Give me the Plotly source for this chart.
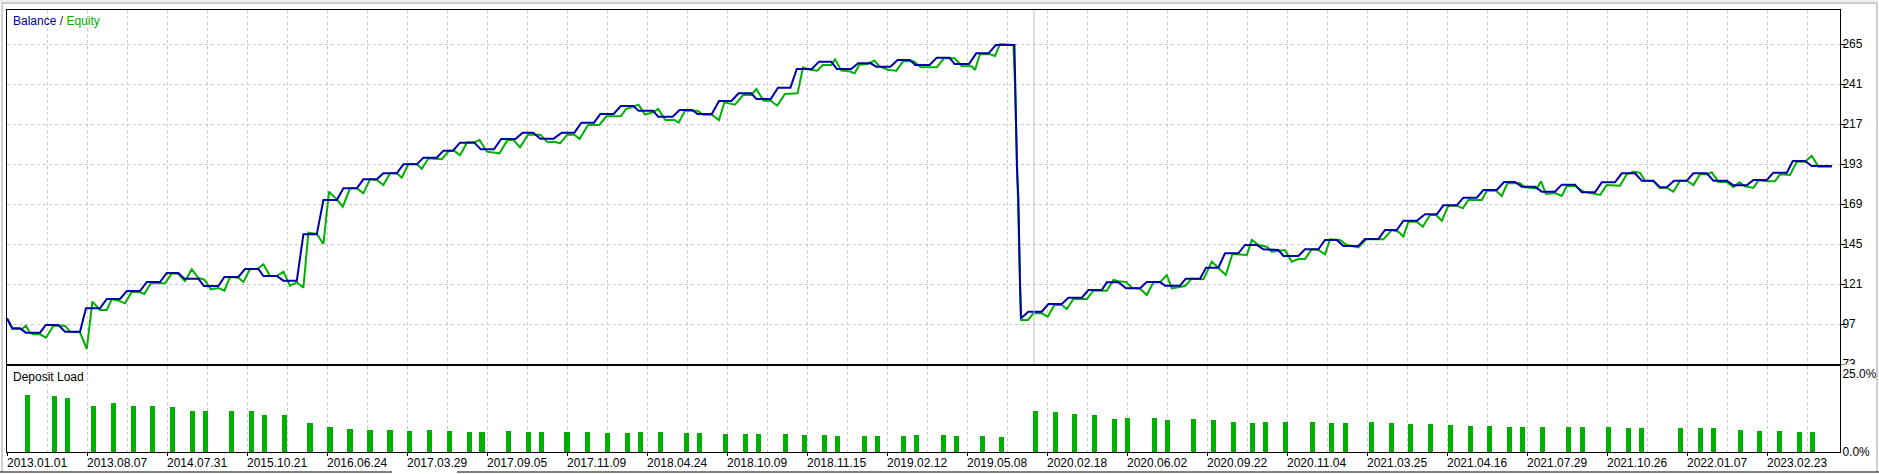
import plotly.graph_objects as go

# ---- data (x = deal sequence index) ----
balance_x = [0, 2.7, 6.5, 9.4, 16.5, 19.4, 25.7, 29, 36.5, 39.5, 46.5, 49.9, 56.5, 59.9, 66.5, 69.9, 76.5, 79.9, 85.7, 88.7,
             95.7, 98.5, 105.7, 108.7, 115.7, 119, 125.7, 128.2, 134.9, 138.2, 144.9, 148.2, 154.9, 158.2, 164.9, 168.2,
             174.9, 178.2, 184.9, 188.2, 194.9, 198.2, 204.9, 208.2, 214.9, 218.2, 223, 226.5, 233.7, 236.9, 243.5, 247.1,
             254.2, 257.8, 263.1, 266.7, 273.3, 277.4, 283.7, 287.2, 293.5, 296.7, 303.3, 306.9, 313.1, 315.8, 323, 325.6,
             332.8, 336.3, 342.6, 345.3, 352.4, 356, 362.2, 365.8, 372.1, 374.7, 381.9, 385.5, 391.7, 394.9, 402.4, 406,
             412.2, 414.9, 422.1, 425.6, 431.9, 434.6, 441.7, 445.3, 451.5, 454.2, 461.3, 464.9, 471.2, 473.8, 481, 484.6,
             490.8, 494.4, 503.7, 504, 504.5, 505, 505.7, 506, 506.5, 507, 510.7, 517.4, 520.7, 527.4, 530.7, 537.4, 540.7,
             547.4, 549.9, 555.7, 559.5, 566.5, 569.9, 576.5, 579, 586.5, 589.4, 596.5, 599.5, 605.7, 609, 615.7, 619,
             624.9, 628.2, 635.7, 638.2, 645.7, 649, 655.7, 659, 664.9, 668.2, 675.7, 679, 685.7, 689, 694.9, 698.2, 704.9,
             709, 714.9, 718.2, 724.9, 728.2, 734.9, 738.2, 744.9, 748.5, 754, 757.4, 764, 767.4, 774, 777.4, 784, 787.4,
             794, 797.4, 804, 807.4, 814, 817.4, 823.2, 826.5, 829.9, 833.5, 839.9, 843.2, 849.9, 853.2, 859.9, 863.2,
             869.9, 873.2, 879.9, 883.2, 889.9, 892.9, 899, 902.4, 912.4]
balance_y = [100.4, 94.4, 94.4, 91.8, 91.8, 96.4, 96.4, 92.4, 92.4, 106.4, 106.4, 112, 112, 116.8, 116.8, 122.2, 122.2, 127.6,
             127.6, 124.2, 124.2, 119.8, 119.8, 125.2, 125.2, 130, 130, 125.8, 125.8, 123, 123, 150.8, 150.8, 171.4, 171.4,
             178.4, 178.4, 183.8, 183.8, 187.4, 187.4, 192.8, 192.8, 196.8, 196.8, 201, 201, 205.8, 205.8, 201.8, 201.8,
             208, 208, 211.8, 211.8, 208.2, 208.2, 211.8, 211.8, 217.8, 217.8, 223, 223, 227.8, 227.8, 225, 225, 221.4,
             221.4, 225.4, 225.4, 223, 223, 230.8, 230.8, 235.4, 235.4, 232, 232, 238.8, 238.8, 250, 250, 254.4, 254.4,
             250, 250, 253.4, 253.4, 251.4, 251.4, 255.4, 255.4, 252.4, 252.4, 256.8, 256.8, 253, 253, 259.4, 259.4,
             264.4, 264.4, 241, 217, 190, 172, 145, 121, 100.4, 104.4, 104.4, 109, 109, 112.8, 112.8, 117.4, 117.4, 122,
             122, 118.4, 118.4, 122.2, 122.2, 120, 120, 124.2, 124.2, 130.8, 130.8, 139.4, 139.4, 144.4, 144.4, 141.8,
             141.4, 137.8, 137.8, 141.8, 141.8, 147.4, 147.4, 143.8, 143.8, 148, 148, 153.4, 153.4, 159, 159, 162.8, 162.8,
             168.2, 168.2, 172.8, 172.8, 177.4, 177.4, 182.2, 182.2, 179.4, 179.4, 176.4, 176.4, 180.6, 180.6, 176, 176,
             182, 182, 187.4, 187.4, 183, 183, 179, 179, 183, 183, 187.4, 187.4, 183, 183, 180.2, 180.2, 183.4, 183.4,
             187.8, 187.8, 194.8, 194.8, 191.8, 191.8]

equity_x = [0, 2.7, 7.5, 9.4, 11.5, 13, 16.5, 19.5, 23.2, 29, 31.5, 36.5, 39.9, 42.7, 46.5, 49.9, 52.4, 55.7, 59, 62.4, 66.5,
            68.7, 71.9, 79, 82.4, 85.7, 89, 92.4, 95.7, 98.7, 102, 105.7, 108.7, 111.5, 115.7, 118.2, 121.5, 125.2, 128.2,
            131.5, 134.9, 138.2, 141.5, 144.9, 148.2, 150.7, 154.9, 158.2, 161, 164.9, 167.9, 171.5, 174.9, 178.2, 181.5,
            184.9, 188.2, 191.5, 194.9, 197.4, 200.7, 204.9, 207.4, 210.7, 217.4, 221, 223.5, 226.5, 230.1, 233.7, 236.3,
            239.9, 246.2, 250.3, 253.3, 256.5, 260.5, 266.7, 270.3, 273.8, 276.5, 280.1, 283.7, 286.3, 290.5, 296.2, 299.7,
            306.9, 309.5, 315.8, 319, 323, 325.6, 329.2, 333.7, 335.8, 339, 345.3, 348, 352.4, 356, 358.7, 364, 368.1,
            372.1, 374.7, 378.3, 381.9, 385.1, 389, 395.3, 398, 401.5, 405.1, 407.8, 412.2, 414, 417.2, 421.2, 423.8,
            426.2, 430.1, 433.7, 436.3, 440.8, 444.7, 448, 453.3, 456.9, 464.9, 468.5, 473.8, 477.4, 482.4, 484, 486.5,
            491.5, 494, 496.5, 503.2, 504, 504.5, 505, 505.7, 506, 506.5, 507, 510.5, 513.2, 517.4, 520.4, 523.7, 527.4,
            529.9, 533.2, 539.9, 543.2, 549.9, 553.2, 555.7, 559.5, 562.4, 566.5, 569.9, 573.2, 576.5, 579.9, 582.4, 589,
            592.4, 598.2, 602.4, 605.7, 609.4, 612.7, 619.9, 622.4, 625.7, 629.9, 632.4, 639, 642.4, 645.7, 649, 652.4,
            655.7, 659, 661.5, 666.5, 669.9, 675.7, 679.5, 688.2, 692.4, 695.7, 698.2, 700.7, 704.9, 707.9, 711.5, 714.5,
            717.4, 720.7, 724.9, 727.9, 730.7, 737.4, 739.9, 744.5, 747.4, 750.2, 756.5, 759, 764.9, 767, 769.5, 774,
            777.4, 779.9, 784, 788.2, 796.5, 799.9, 806.5, 809.9, 813.2, 816.5, 819, 823.2, 826.5, 829.9, 833.2, 836.5,
            839.9, 843.2, 846.5, 849.9, 852.4, 855.7, 859.9, 863.2, 866.2, 869, 873.2, 875.7, 879.9, 884, 886.5, 891.5,
            894.9, 899, 902.4, 905.7, 912.4]
equity_y = [100.4, 94, 94, 96, 91.8, 90.8, 90.8, 88.8, 96, 96, 92.4, 92, 82, 110.4, 105.4, 105.4, 112, 111, 109.4, 116.4,
            116, 115, 121.4, 121.4, 127.4, 127, 122.8, 129.8, 124.6, 123.6, 117.8, 118.6, 117, 125.2, 124.8, 122.2, 130,
            130, 132.8, 125.8, 125.8, 128.4, 120, 122, 118.8, 151.8, 151, 145, 176.4, 171.8, 167.4, 178.4, 178.4, 175.4,
            183.8, 183.4, 180.4, 187.4, 187.4, 184.8, 193, 193, 190, 196.4, 195.8, 201, 201, 198.2, 206, 206, 207.4,
            200.4, 199.4, 207.4, 207.4, 203, 210.6, 210.6, 206, 206.4, 205.4, 210.6, 210.6, 208, 216.4, 216.4, 221.6,
            221.6, 226, 228.6, 222.6, 224, 226, 219.4, 219.4, 217.8, 225, 225, 222.6, 222.6, 219.4, 230, 228.6, 234.4,
            234.4, 238, 231, 231, 228, 235, 235.4, 251, 249.6, 249, 252.4, 252.4, 255.8, 249, 248.6, 247.4, 252.6, 253,
            255, 251.6, 249.4, 249, 254.6, 254.6, 251, 251, 256.4, 256.4, 251.8, 251.6, 249.4, 259, 258.8, 257.8, 265,
            264.4, 241, 217, 190, 172, 145, 121, 99.4, 99.4, 103.4, 103.4, 101.4, 108.4, 108.4, 106, 112, 112, 117, 117,
            123.4, 122.6, 122.2, 118.8, 118.2, 114.4, 122, 122, 126.4, 118.4, 119.8, 124.2, 123.8, 134.4, 130.8, 126.4,
            139, 138.4, 147.4, 144.4, 143.4, 140.4, 141.4, 134.4, 136, 136, 141.8, 141.4, 138.8, 147.8, 147.4, 144.4, 143,
            147.8, 147.8, 153.4, 152.4, 149.4, 158.4, 158.4, 155.4, 162.4, 162.4, 159, 168, 168, 166.4, 171.4, 171.4,
            177, 177, 173.8, 181.4, 181.4, 179, 178.4, 182.6, 175, 175.6, 173.8, 179.8, 179.8, 176.4, 174.4, 180.4, 180,
            186.8, 188.4, 187.8, 183, 182.6, 178.6, 178.6, 176.4, 183, 183, 180.4, 186.8, 186.8, 188, 182.2, 182.2, 179,
            182, 179.6, 178.6, 183.2, 182.6, 182.6, 186.8, 186.4, 194.4, 194.4, 198, 191.4, 191.4]

load_x = [10.2, 23.7, 30.2, 43.2, 53.2, 63.2, 72.7, 82.7, 92.7, 99.2, 112.2, 122.2, 128.7, 138.7, 151.5, 161.5, 171.5,
          181.5, 191.5, 201.2, 211.2, 221.2, 231.2, 237.5, 250.7, 260.7, 267.2, 280, 290.2, 300.2, 310.2, 316.7, 326.7,
          339.7, 346.2, 359.2, 369.2, 375.7, 389.2, 398.7, 408.7, 415.2, 428.7, 435.2, 448.2, 454.7, 468.2, 474.7, 487.7,
          497.4, 514.2, 524.4, 533.9, 543.7, 553.7, 560.2, 573.7, 580.2, 593.2, 603.2, 613.2, 622.7, 629.2, 639.2, 652.7,
          662.2, 669.2, 682.2, 692.2, 701.7, 711.7, 721.7, 731.7, 741.2, 751.2, 757.7, 767.7, 780.7, 787.7, 800.7, 810.7,
          817.2, 836.7, 846.7, 853.2, 866.7, 876.2, 886.2, 896.2, 902.7]
load_y = [18.2, 17.9, 17.2, 14.9, 15.6, 14.9, 14.6, 14.3, 13.0, 13.0, 13.3, 13.0, 11.7, 12.0, 9.4, 8.1, 7.5, 7.1, 7.1, 6.8,
          7.1, 6.8, 6.5, 6.5, 6.8, 6.5, 6.5, 6.5, 6.5, 6.2, 6.2, 6.5, 6.5, 6.2, 6.2, 5.8, 5.8, 5.8, 5.8, 5.5, 5.5, 5.2,
          5.2, 5.2, 5.2, 5.5, 5.5, 5.2, 5.2, 4.9, 13.3, 12.7, 12.3, 12.0, 10.7, 11.0, 11.0, 10.4, 10.7, 10.1, 9.7, 9.4,
          9.7, 9.7, 9.7, 9.4, 9.4, 9.7, 9.4, 9.1, 9.1, 8.8, 8.4, 8.4, 8.1, 8.1, 8.1, 8.1, 8.1, 8.1, 7.8, 7.8, 7.8, 7.8,
          7.8, 7.1, 6.8, 6.8, 6.5, 6.5]

date_ticks = [0, 40, 80, 120, 160, 200, 240, 280, 320, 360, 400, 440, 480, 520, 560, 600, 640, 680, 720, 760, 800, 840, 880]
date_labels = ["2013.01.01", "2013.08.07", "2014.07.31", "2015.10.21", "2016.06.24", "2017.03.29", "2017.09.05",
               "2017.11.09", "2018.04.24", "2018.10.09", "2018.11.15", "2019.02.12", "2019.05.08", "2020.02.18",
               "2020.06.02", "2020.09.22", "2020.11.04", "2021.03.25", "2021.04.16", "2021.07.29", "2021.10.26",
               "2022.01.07", "2023.02.23"]
balance_ticks = [73, 97, 121, 145, 169, 193, 217, 241, 265]
load_ticks = [0, 25]
load_labels = ["0.0%", "25.0%"]
separator_idx = 513.5

# ---- styling ----
W, H = 1879, 474
FONT = "Liberation Sans, Arial, sans-serif"
BLUE = "#0000a8"
GREEN = "#00b000"
GRID = "#c8c8c8"
DASH = "3px,3px"

def px(v):
    return v / W

def py(v):
    return 1 - v / H

x_dom = [px(7), px(1840)]
main_dom = [py(364), py(10)]
load_dom = [py(452), py(366)]

fig = go.Figure()
fig.add_trace(go.Bar(x=load_x, y=load_y, marker=dict(color=GREEN, line=dict(width=0)), width=2.6,
                     xaxis="x", yaxis="y", showlegend=False))
fig.add_trace(go.Scatter(x=equity_x, y=equity_y, mode="lines", line=dict(color=GREEN, width=2),
                         xaxis="x2", yaxis="y2", showlegend=False))
fig.add_trace(go.Scatter(x=balance_x, y=balance_y, mode="lines", line=dict(color=BLUE, width=2),
                         xaxis="x2", yaxis="y2", showlegend=False))

x_range = [0, 916.5]
common_x = dict(range=x_range, domain=x_dom, showline=True, mirror=True, linecolor="black", linewidth=1,
                showgrid=True, gridcolor=GRID, griddash=DASH, gridwidth=1, zeroline=False, automargin=False,
                minor=dict(tickmode="linear", tick0=0, dtick=20, showgrid=True, gridcolor=GRID, griddash=DASH,
                           gridwidth=1, ticks=""))

yfont = dict(family=FONT, size=12, color="black")
fig.update_layout(
    width=W, height=H, margin=dict(l=0, r=0, t=0, b=0, autoexpand=False),
    paper_bgcolor="white", plot_bgcolor="white", bargap=0,
    font=dict(family=FONT, size=12, color="black"),
    xaxis=dict(**common_x, anchor="y", tickmode="array", tickvals=date_ticks, ticktext=date_labels,
               ticks="outside", ticklen=3, tickcolor="black", ticklabelposition="outside right",
               ticklabelshift=-1, ticklabelstandoff=0,
               tickfont=dict(family=FONT, size=12, color="black")),
    xaxis2=dict(**common_x, anchor="y2", matches="x", showticklabels=False, ticks=""),
    yaxis=dict(domain=load_dom, range=[0, 27.56], side="right", anchor="x", showline=True, mirror=True,
               linecolor="black", linewidth=1, showgrid=False, zeroline=False, tickmode="array",
               tickvals=load_ticks, ticktext=load_labels, ticks="outside", ticklen=4, automargin=False,
               tickcolor="rgba(0,0,0,0)", ticklabelstandoff=-5, tickfont=yfont),
    yaxis2=dict(domain=main_dom, range=[73, 285.4], side="right", anchor="x2", showline=True, mirror=True,
                linecolor="black", linewidth=1, showgrid=True, gridcolor=GRID, griddash=DASH, zeroline=False,
                tickmode="array", tickvals=balance_ticks, ticks="outside", ticklen=4, tickcolor="black",
                automargin=False, ticklabelstandoff=-5, tickfont=yfont),
)

shapes = [
    dict(type="line", xref="x2", yref="paper", x0=separator_idx, x1=separator_idx, y0=main_dom[0], y1=main_dom[1],
         line=dict(color="#c0c0c0", width=1)),
    dict(type="rect", xref="paper", yref="paper", x0=0, x1=1, y0=py(3), y1=1, fillcolor="#f0f0f0",
         line=dict(width=0), layer="below"),
    dict(type="line", xref="paper", yref="paper", x0=px(2), x1=px(1877), y0=py(3), y1=py(3),
         line=dict(color="#a0a0a0", width=1)),
    dict(type="line", xref="paper", yref="paper", x0=px(2), x1=px(2), y0=py(3), y1=py(472),
         line=dict(color="#a0a0a0", width=1)),
    dict(type="line", xref="paper", yref="paper", x0=px(1877), x1=px(1877), y0=py(3), y1=py(472),
         line=dict(color="#a0a0a0", width=1)),
    dict(type="line", xref="paper", yref="paper", x0=px(0), x1=px(392), y0=py(472), y1=py(472),
         line=dict(color="black", width=1)),
    dict(type="line", xref="paper", yref="paper", x0=px(457), x1=px(1879), y0=py(472), y1=py(472),
         line=dict(color="black", width=1)),
    # panel gap hides the lower half of the bottom balance label, as in the terminal view
    dict(type="rect", xref="paper", yref="paper", x0=px(1841), x1=px(1876), y0=py(369), y1=py(364.6),
         fillcolor="white", line=dict(width=0), layer="above"),
]
fig.update_layout(shapes=shapes)

fig.add_annotation(xref="paper", yref="paper", x=px(11), y=py(21), xanchor="left", yanchor="middle",
                   showarrow=False, font=dict(family=FONT, size=12),
                   text=f"<span style='color:{BLUE}'>Balance</span><span style='color:#202020'> / </span>"
                        f"<span style='color:{GREEN}'>Equity</span>")
fig.add_annotation(xref="paper", yref="paper", x=px(11), y=py(377), xanchor="left", yanchor="middle",
                   showarrow=False, font=dict(family=FONT, size=12, color="black"), text="Deposit Load")

fig.write_html("out.html", config={"displayModeBar": False},
               post_script="document.body.style.margin='0';document.body.style.overflow='hidden';")
